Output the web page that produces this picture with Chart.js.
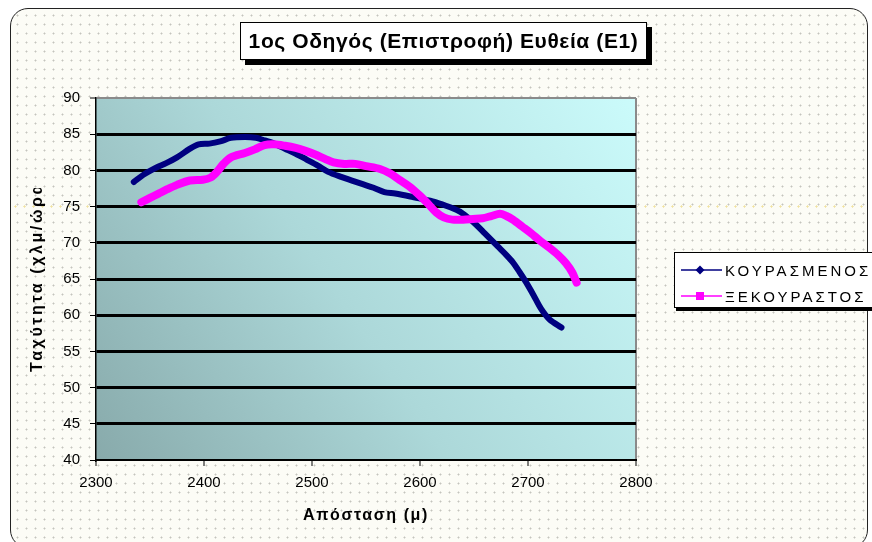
<!DOCTYPE html>
<html>
<head>
<meta charset="utf-8">
<script src="https://cdn.jsdelivr.net/npm/chart.js@4/dist/chart.umd.min.js"></script>
<style>
  html, body { margin:0; padding:0; width:872px; height:542px; overflow:hidden; background:#ffffff;
    font-family:"Liberation Sans", Arial, sans-serif; }
  #frame { position:absolute; left:10px; top:8px; width:858px; height:540px; box-sizing:border-box;
    border:1.5px solid #222; border-radius:18px; background-color:#fcfcf6;
    background-image:radial-gradient(circle, #c4c4bd 0.8px, transparent 1.2px);
    background-size:9px 9px; background-position:2px 2px; }
  #yellowRow { position:absolute; left:11px; top:205px; width:856px; height:3px;
    background-image:radial-gradient(circle, #f0e2a0 0.9px, transparent 1.3px); background-size:9px 3px; }
  #chart { position:absolute; left:0; top:0; }
  #title { position:absolute; left:240px; top:22px; width:407px; height:38px; box-sizing:border-box;
    border:1.5px solid #000; background:#fff; box-shadow:5px 5px 0 #000;
    font-weight:bold; font-size:21px; letter-spacing:0.6px; line-height:35px; text-align:center; color:#000; }
  #xTitle { position:absolute; left:236px; top:506px; width:260px; text-align:center;
    font-weight:bold; font-size:16px; letter-spacing:1.6px; color:#000; }
  #yTitle { position:absolute; left:-55px; top:270px; width:184px; height:20px; overflow:hidden;
    white-space:nowrap; transform:rotate(-90deg); font-weight:bold; font-size:16px; letter-spacing:2.6px;
    line-height:20px; color:#000; }
  #legend { position:absolute; left:674px; top:252px; width:230px; height:56px; box-sizing:border-box;
    border:1px solid #000; background:#fff; box-shadow:2px 3px 0 #000; }
  .row { position:absolute; left:6px; height:20px; display:flex; align-items:center; font-size:15px;
    letter-spacing:3px; color:#000; }
  .row svg { margin-right:3px; }
</style>
</head>
<body>
<div id="frame"></div>
<div id="yellowRow"></div>
<canvas id="chart" width="872" height="542"></canvas>
<div id="title">1ος Οδηγός (Επιστροφή) Ευθεία (Ε1)</div>
<div id="xTitle">Απόσταση (μ)</div>
<div id="yTitle">Ταχύτητα (χλμ/ώρα)</div>
<div id="legend">
  <div class="row" style="top:7px">
    <svg width="41" height="12"><line x1="0" y1="6" x2="41" y2="6" stroke="#000080" stroke-width="1.5"/><polygon points="19,1.5 23.5,6 19,10.5 14.5,6" fill="#000080"/></svg>
    <span id="lab0"></span>
  </div>
  <div class="row" style="top:33px">
    <svg width="41" height="12"><line x1="0" y1="6" x2="41" y2="6" stroke="#ff00ff" stroke-width="1.5"/><rect x="15" y="2" width="8" height="8" fill="#ff00ff"/></svg>
    <span id="lab1"></span>
  </div>
</div>
<script>
// Series names
const seriesNames = ['ΚΟΥΡΑΣΜΕΝΟΣ', 'ΞΕΚΟΥΡΑΣΤΟΣ'];

// ΚΟΥΡΑΣΜΕΝΟΣ: distance (m) and speed (km/h)
const distTired = [2335, 2345, 2356, 2365, 2375, 2387, 2395, 2405, 2415, 2425, 2438, 2448, 2455, 2465,
  2475, 2485, 2495, 2505, 2515, 2527, 2537, 2547, 2557, 2567, 2577, 2591, 2603, 2615, 2628, 2637,
  2645, 2652, 2660, 2672, 2680, 2686, 2692, 2698, 2705, 2712, 2720, 2731];
const speedTired = [78.4, 79.5, 80.4, 81.0, 81.8, 83.0, 83.6, 83.7, 84.0, 84.5, 84.6, 84.5, 84.2, 83.7,
  83.0, 82.3, 81.5, 80.7, 79.8, 79.1, 78.6, 78.1, 77.6, 77.0, 76.8, 76.4, 76.0, 75.6, 74.9, 74.3,
  73.4, 72.5, 71.3, 69.5, 68.3, 67.3, 66.0, 64.6, 62.8, 60.9, 59.4, 58.3];

// ΞΕΚΟΥΡΑΣΤΟΣ: distance (m) and speed (km/h)
const distRested = [2342, 2350, 2358, 2366, 2375, 2387, 2399, 2406, 2412, 2418, 2425, 2438, 2447, 2456,
  2465, 2475, 2485, 2494, 2503, 2512, 2520, 2530, 2540, 2550, 2563, 2572, 2581, 2590, 2600, 2608,
  2615, 2622, 2630, 2640, 2649, 2658, 2666, 2674, 2680, 2686, 2695, 2703, 2711, 2720, 2728, 2735,
  2741, 2745];
const speedRested = [75.6, 76.2, 76.8, 77.4, 78.0, 78.6, 78.7, 79.0, 79.8, 80.9, 81.8, 82.4, 82.9, 83.5,
  83.6, 83.4, 83.1, 82.7, 82.2, 81.6, 81.1, 80.9, 80.9, 80.6, 80.2, 79.6, 78.7, 77.8, 76.5, 75.3,
  74.2, 73.5, 73.2, 73.2, 73.3, 73.4, 73.7, 74.0, 73.7, 73.2, 72.2, 71.3, 70.3, 69.3, 68.3, 67.2,
  65.9, 64.5];

// Axis ticks
const xTickValues = [2300, 2400, 2500, 2600, 2700, 2800];
const yTickValues = [40, 45, 50, 55, 60, 65, 70, 75, 80, 85, 90];

document.getElementById('lab0').textContent = seriesNames[0];
document.getElementById('lab1').textContent = seriesNames[1];

const toPoints = (xs, ys) => xs.map((x, i) => ({ x, y: ys[i] }));

// Diagonal teal gradient behind the plot area
const plotBackground = {
  id: 'plotBackground',
  beforeDraw(chart) {
    const { ctx, chartArea: a } = chart;
    const g = ctx.createLinearGradient(a.left, a.bottom, a.right, a.top);
    g.addColorStop(0, '#88aaab');
    g.addColorStop(0.45, '#acd8d9');
    g.addColorStop(1, '#cbfbfb');
    ctx.save();
    ctx.fillStyle = g;
    ctx.fillRect(a.left, a.top, a.right - a.left, a.bottom - a.top);
    ctx.restore();
  }
};

const tickFont = { family: '"Liberation Sans", Arial, sans-serif', size: 15 };

new Chart(document.getElementById('chart'), {
  type: 'scatter',
  data: {
    datasets: [
      { label: seriesNames[0], data: toPoints(distTired, speedTired), showLine: true,
        borderColor: '#000080', backgroundColor: '#000080', borderWidth: 6, pointRadius: 0,
        tension: 0.3, borderJoinStyle: 'round', borderCapStyle: 'round', order: 1 },
      { label: seriesNames[1], data: toPoints(distRested, speedRested), showLine: true,
        borderColor: '#ff00ff', backgroundColor: '#ff00ff', borderWidth: 8, pointRadius: 0,
        tension: 0.3, borderJoinStyle: 'round', borderCapStyle: 'round', order: 0 }
    ]
  },
  options: {
    responsive: false,
    animation: false,
    devicePixelRatio: 1,
    layout: { padding: { left: 10, top: 98, right: 236, bottom: 40 } },
    plugins: { legend: { display: false }, tooltip: { enabled: false }, title: { display: false } },
    scales: {
      x: {
        type: 'linear', min: xTickValues[0], max: xTickValues[xTickValues.length - 1],
        afterBuildTicks: s => { s.ticks = xTickValues.map(v => ({ value: v })); },
        afterFit: s => { s.height = 42; },
        ticks: { font: tickFont, color: '#000', padding: 8, maxRotation: 0, callback: v => String(v) },
        grid: {
          color: c => (c.tick && c.tick.value === 2800) ? '#8a8a8a' : 'rgba(0,0,0,0)',
          lineWidth: 2, tickColor: '#000', tickLength: 6, tickWidth: 1
        },
        border: { color: '#000', width: 2 }
      },
      y: {
        min: yTickValues[0], max: yTickValues[yTickValues.length - 1],
        afterBuildTicks: s => { s.ticks = yTickValues.map(v => ({ value: v })); },
        afterFit: s => { s.width = 86; },
        ticks: { font: tickFont, color: '#000', padding: 10, callback: v => String(v) },
        grid: {
          color: c => {
            if (!c.tick) return '#000';
            if (c.tick.value === 90) return '#8a8a8a';
            if (c.tick.value === 40) return 'rgba(0,0,0,0)';
            return '#000';
          },
          lineWidth: c => (c.tick && c.tick.value === 90) ? 2 : 3,
          tickColor: '#000', tickLength: 6, tickWidth: 1
        },
        border: { color: '#000', width: 1.5 }
      }
    }
  },
  plugins: [plotBackground]
});
</script>
</body>
</html>
